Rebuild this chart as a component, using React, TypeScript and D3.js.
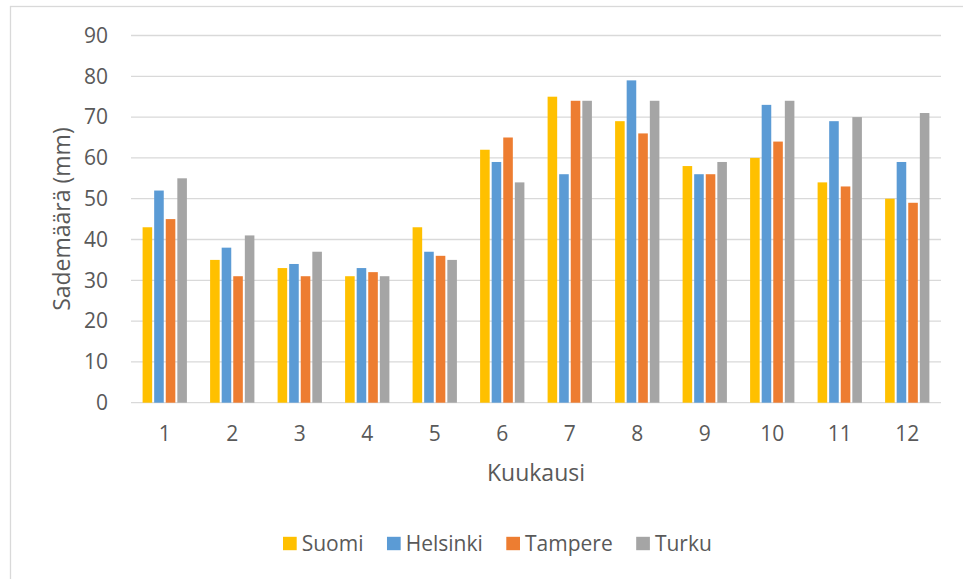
import React, { useEffect, useRef } from 'react';
import * as d3 from 'd3';

const months = ['1', '2', '3', '4', '5', '6', '7', '8', '9', '10', '11', '12'];
const seriesNames = ['Suomi', 'Helsinki', 'Tampere', 'Turku'];
const suomi = [43, 35, 33, 31, 43, 62, 75, 69, 58, 60, 54, 50];
const helsinki = [52, 38, 34, 33, 37, 59, 56, 79, 56, 73, 69, 59];
const tampere = [45, 31, 31, 32, 36, 65, 74, 66, 56, 64, 53, 49];
const turku = [55, 41, 37, 31, 35, 54, 74, 74, 59, 74, 70, 71];
const yTicks = [0, 10, 20, 30, 40, 50, 60, 70, 80, 90];
const colors = ['#FFC000', '#5B9BD5', '#ED7D31', '#A5A5A5'];

export default function App() {
    const ref = useRef<SVGSVGElement>(null);

    useEffect(() => {
        const width = 963, height = 579;
        const left = 131, right = 941, top = 35.5, bottom = 402.7;
        const font = '"Open Sans", sans-serif';
        const textColor = '#595959';
        const grid = '#D9D9D9';

        const svg = d3.select(ref.current);
        svg.selectAll('*').remove();
        svg.attr('width', width).attr('height', height);

        svg.append('rect').attr('width', width).attr('height', height).attr('fill', '#fff');
        // chart frame (cut off right/bottom like the screenshot)
        svg.append('rect')
            .attr('x', 10.5).attr('y', 6.5).attr('width', 1000).attr('height', 1000)
            .attr('fill', 'none').attr('stroke', grid).attr('stroke-width', 1.3);

        const y = d3.scaleLinear().domain([0, 90]).range([bottom, top]);
        const x = d3.scaleBand().domain(months).range([left, right]).paddingInner(0.314).paddingOuter(0.157);
        const xs = d3.scaleBand().domain(seriesNames).range([0, x.bandwidth()]);

        // gridlines
        svg.append('g').selectAll('line').data(yTicks).enter().append('line')
            .attr('x1', left).attr('x2', right)
            .attr('y1', d => y(d)).attr('y2', d => y(d))
            .attr('stroke', grid).attr('stroke-width', 1.3);

        // y tick labels
        svg.append('g').selectAll('text').data(yTicks).enter().append('text')
            .attr('x', 108).attr('y', d => y(d)).attr('dy', '0.35em')
            .attr('text-anchor', 'end')
            .attr('font-family', font).attr('font-size', 21).attr('fill', textColor)
            .text(d => d);

        // bars
        const data = [suomi, helsinki, tampere, turku];
        const groups = svg.append('g').selectAll('g').data(months).enter().append('g')
            .attr('transform', d => `translate(${x(d)},0)`);
        groups.selectAll('rect')
            .data((m, i) => seriesNames.map((s, k) => ({ s, k, v: data[k][i] })))
            .enter().append('rect')
            .attr('x', d => (xs(d.s) as number) + 1)
            .attr('width', xs.bandwidth() - 2)
            .attr('y', d => y(d.v))
            .attr('height', d => bottom - y(d.v))
            .attr('fill', d => colors[d.k]);

        // x tick labels
        svg.append('g').selectAll('text').data(months).enter().append('text')
            .attr('x', d => (x(d) as number) + x.bandwidth() / 2).attr('y', 434).attr('dy', '0.35em')
            .attr('text-anchor', 'middle')
            .attr('font-family', font).attr('font-size', 21).attr('fill', textColor)
            .text(d => d);

        // axis titles
        svg.append('text')
            .attr('x', (left + right) / 2).attr('y', 472.7).attr('dy', '0.35em')
            .attr('text-anchor', 'middle')
            .attr('font-family', font).attr('font-size', 23).attr('fill', textColor)
            .text('Kuukausi');
        svg.append('text')
            .attr('transform', `translate(61.7,${(top + bottom) / 2}) rotate(-90)`)
            .attr('dy', '0.35em')
            .attr('text-anchor', 'middle')
            .attr('font-family', font).attr('font-size', 23).attr('fill', textColor)
            .text('Sademäärä (mm)');

        // legend
        const legend = svg.append('g');
        let lx = 283;
        const ly = 543.5;
        seriesNames.forEach((name, k) => {
            legend.append('rect')
                .attr('x', lx).attr('y', ly - 6.7).attr('width', 13.7).attr('height', 13.4)
                .attr('fill', colors[k]);
            const t = legend.append('text')
                .attr('x', lx + 18.7).attr('y', ly).attr('dy', '0.35em')
                .attr('font-family', font).attr('font-size', 21).attr('fill', textColor)
                .text(name);
            const w = (t.node() as SVGTextElement).getComputedTextLength();
            lx = lx + 18.7 + w + 23.5;
        });
    }, []);

    return <svg ref={ref} style={{ position: 'absolute', left: 0, top: 0 }} />;
}
